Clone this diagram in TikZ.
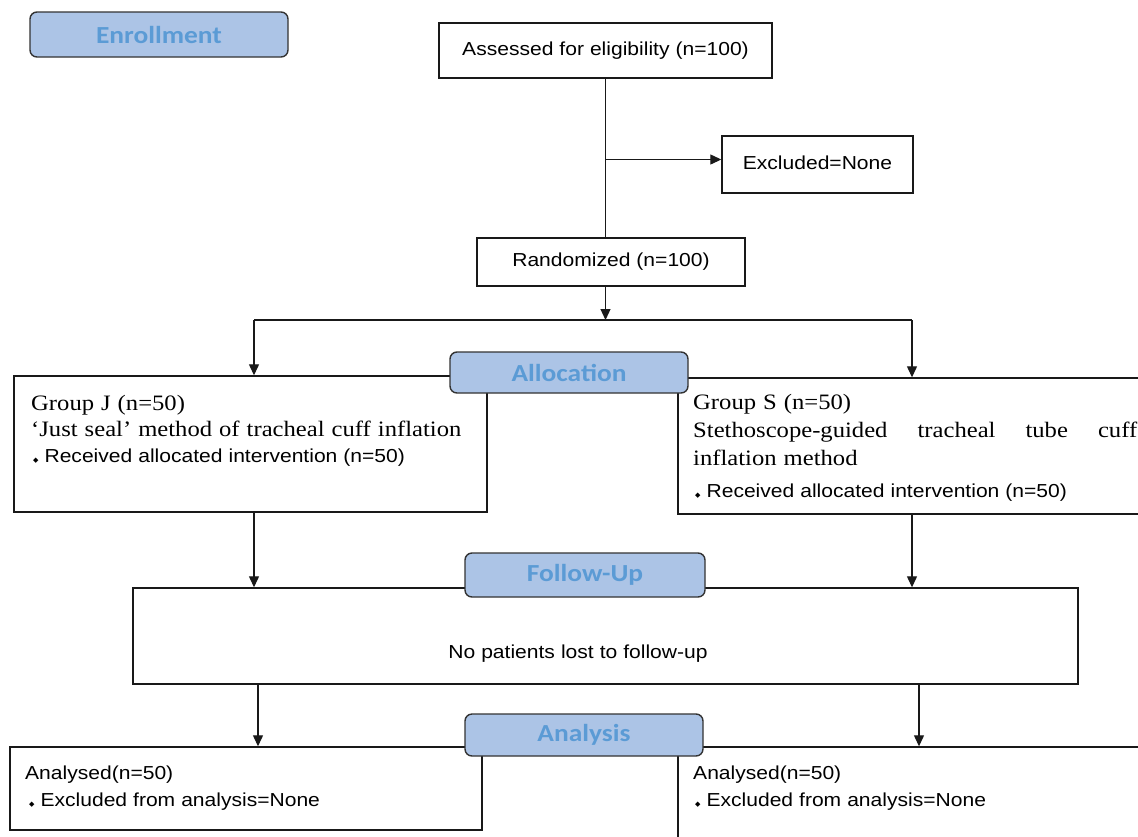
\documentclass[tikz,border=0pt]{standalone}
\usepackage{fontspec}
\usetikzlibrary{arrows.meta}
\newfontfamily\sansfont[FakeStretch=1.12]{Liberation Sans}
\newfontfamily\seriffont[FakeStretch=1.12]{Liberation Serif}
\newfontfamily\stagefont[FakeStretch=1.12]{Carlito}
\newfontfamily\symfont{DejaVu Sans}
\definecolor{stagefill}{RGB}{172,196,230}
\definecolor{stagetext}{RGB}{91,155,213}
\setlength{\parindent}{0pt}
\newcommand{\bull}{{\symfont\fontsize{7}{7}\selectfont ◆}\hspace{6pt}}
\newcommand{\sanstext}[1]{\sansfont\fontsize{18.8}{#1}\selectfont\spaceskip=6pt plus 3pt minus 1pt\relax}
\newcommand{\seriftext}[1]{\seriffont\fontsize{22}{#1}\selectfont\spaceskip=7pt plus 4pt minus 1pt\relax}
\begin{document}
\begin{tikzpicture}[x=1pt,y=-1pt,
    box/.style={draw=black!90,line width=1.4pt,inner sep=0pt},
    txt/.style={font=\sanstext{25.5},inner sep=0pt},
    stage/.style={draw=black!80,line width=1.4pt,fill=stagefill,rounded corners=7pt,
      text=stagetext,font=\stagefont\bfseries\fontsize{24.5}{28}\selectfont,inner sep=0pt},
    link/.style={draw=black!90,line width=1.2pt},
    arr/.style={link,-{Triangle[length=11pt,width=10pt]}}]
  \useasboundingbox[fill=white] (0,0) rectangle (1138,836);
  % boxes
  \node[box,txt,minimum width=333pt,minimum height=55pt] (assess) at (605.5,50.5) {Assessed for eligibility (n=100)};
  \node[box,txt,minimum width=191pt,minimum height=57pt] (excl) at (817.5,164.5) {\raisebox{4pt}{Excluded=None}};
  \node[box,txt,minimum width=268pt,minimum height=48pt] (rand) at (611,262) {Randomized (n=100)};
  \node[box,minimum width=473pt,minimum height=136pt] (gJ) at (250.5,444) {};
  \node[box,minimum width=472pt,minimum height=136pt] (gS) at (914,446) {};
  \node[box,minimum width=945pt,minimum height=96pt] (noloss) at (605.5,636) {};
  \node[box,minimum width=472pt,minimum height=83pt] (anL) at (246,788.5) {};
  \node[box,minimum width=472pt,minimum height=103pt] (anR) at (914,798.5) {};
  % texts
  \node[anchor=north west,text width=452pt,inner sep=0pt,align=left] (gJtext) at (31,395)
    {\seriftext{26}Group J (n=50)\par
     ‘Just seal’ method of tracheal cuff inflation\par
     \sanstext{26.5}\hspace*{2pt}\bull Received allocated intervention (n=50)\par};
  \node[anchor=north west,text width=444pt,inner sep=0pt,align=justify] (gStext) at (693,394)
    {\seriftext{28}Group S (n=50)\par
     Stethoscope-guided tracheal tube cuff\linebreak inflation method\par
     \sanstext{32}\hspace*{2pt}\bull Received allocated intervention (n=50)\par};
  \node[txt] (lost) at (578,654) {No patients lost to follow-up};
  \node[anchor=north west,text width=440pt,inner sep=0pt,align=left] (anLtext) at (25,766)
    {\sanstext{26.5}Analysed(n=50)\par
     \hspace*{4pt}\bull Excluded from analysis=None\par};
  \node[anchor=north west,text width=440pt,inner sep=0pt,align=left] (anRtext) at (693,766)
    {\sanstext{26.5}Analysed(n=50)\par
     \hspace*{2pt}\bull Excluded from analysis=None\par};
  % connectors
  \coordinate (colJ) at (254,320);
  \coordinate (colS) at (912,320);
  \coordinate (dropJ) at (258,0);
  \coordinate (dropS) at (919,0);
  \draw[link] (assess.south) -- (assess.south |- rand.north);
  \draw[arr] ([yshift=5pt]assess.south |- excl.west) -- ([yshift=5pt]excl.west);
  \draw[arr] (assess.south |- rand.south) -- (assess.south |- colJ);
  \draw[link] (colJ) -- (colS);
  \draw[arr] (colJ) -- (colJ |- gJ.north);
  \draw[arr] (colS) -- (colS |- gS.north);
  \draw[arr] (colJ |- gJ.south) -- (colJ |- noloss.north);
  \draw[arr] (colS |- gS.south) -- (colS |- noloss.north);
  \draw[arr] (dropJ |- noloss.south) -- (dropJ |- anL.north);
  \draw[arr] (dropS |- noloss.south) -- (dropS |- anR.north);
  % stage labels
  \node[stage,minimum width=258pt,minimum height=45pt] (enrol) at (159,34.5) {Enrollment};
  \node[stage,minimum width=238pt,minimum height=41pt] (alloc) at (569,372.5) {Allocation};
  \node[stage,minimum width=240pt,minimum height=44pt] (follow) at (585,575) {Follow-Up};
  \node[stage,minimum width=238pt,minimum height=42pt] (analysis) at (584,735) {Analysis};
\end{tikzpicture}
\end{document}
